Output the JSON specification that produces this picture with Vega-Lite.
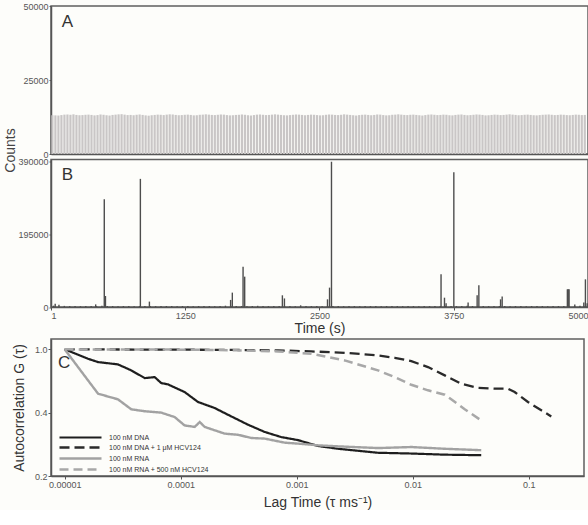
{
  "$schema": "https://vega.github.io/schema/vega-lite/v6.json",
  "background": "#fdfdfa",
  "autosize": {"type": "pad"},
  "padding": {"left": 2, "top": 1, "right": 0, "bottom": 0},
  "config": {
    "font": "Liberation Sans",
    "view": {"stroke": "#5f5f5f", "strokeWidth": 1.5},
    "axis": {"domainColor": "#555", "domainWidth": 1.5, "tickColor": "#555", "tickSize": 3, "labelFontSize": 9, "labelColor": "#555", "titleFontSize": 14, "titleFontWeight": "normal", "titleColor": "#333", "grid": false, "labelPadding": 1},
    "legend": {"orient": "none", "legendX": 26, "legendY": 428, "symbolType": "M-10.5,0H10.5", "symbolSize": 16, "labelFontSize": 7, "labelColor": "#333", "rowPadding": 0, "labelOffset": 25}
  },
  "datasets": {
    "a": [
      {"t":14,"c":13100},{"t":42,"c":13050},{"t":70,"c":13000},{"t":98,"c":13150},{"t":126,"c":13300},{"t":154,"c":13350},{"t":182,"c":13250},{"t":210,"c":13400},{"t":238,"c":13200},{"t":266,"c":13100},
      {"t":294,"c":13150},{"t":322,"c":13250},{"t":350,"c":13300},{"t":378,"c":13200},{"t":406,"c":13050},{"t":434,"c":13150},{"t":462,"c":13350},{"t":490,"c":13250},{"t":518,"c":13100},{"t":546,"c":13000},
      {"t":574,"c":13200},{"t":602,"c":13300},{"t":630,"c":13400},{"t":658,"c":13450},{"t":686,"c":13300},{"t":714,"c":13150},{"t":742,"c":13200},{"t":770,"c":13100},{"t":798,"c":13250},{"t":826,"c":13350},
      {"t":854,"c":13200},{"t":882,"c":13050},{"t":910,"c":12950},{"t":938,"c":13100},{"t":966,"c":13200},{"t":994,"c":13300},{"t":1022,"c":13250},{"t":1050,"c":13150},{"t":1078,"c":13300},{"t":1106,"c":13400},
      {"t":1134,"c":13350},{"t":1162,"c":13200},{"t":1190,"c":13100},{"t":1218,"c":13150},{"t":1246,"c":13250},{"t":1274,"c":13300},{"t":1302,"c":13200},{"t":1330,"c":13050},{"t":1358,"c":13100},{"t":1386,"c":13250},
      {"t":1414,"c":13300},{"t":1442,"c":13400},{"t":1470,"c":13300},{"t":1498,"c":13200},{"t":1526,"c":13150},{"t":1554,"c":13250},{"t":1582,"c":13350},{"t":1610,"c":13300},{"t":1638,"c":13150},{"t":1666,"c":13050},
      {"t":1694,"c":13100},{"t":1722,"c":13200},{"t":1750,"c":13250},{"t":1778,"c":13350},{"t":1806,"c":13250},{"t":1834,"c":13100},{"t":1862,"c":13000},{"t":1890,"c":13150},{"t":1918,"c":13300},{"t":1946,"c":13350},
      {"t":1974,"c":13250},{"t":2002,"c":13150},{"t":2030,"c":13200},{"t":2058,"c":13300},{"t":2086,"c":13400},{"t":2114,"c":13300},{"t":2142,"c":13200},{"t":2170,"c":13100},{"t":2198,"c":13050},{"t":2226,"c":13150},
      {"t":2254,"c":13250},{"t":2282,"c":13350},{"t":2310,"c":13300},{"t":2338,"c":13200},{"t":2366,"c":13100},{"t":2394,"c":13200},{"t":2422,"c":13300},{"t":2450,"c":13250},{"t":2478,"c":13150},{"t":2506,"c":13050},
      {"t":2534,"c":13100},{"t":2562,"c":13250},{"t":2590,"c":13350},{"t":2618,"c":13300},{"t":2646,"c":13200},{"t":2674,"c":13150},{"t":2702,"c":13250},{"t":2730,"c":13400},{"t":2758,"c":13300},{"t":2786,"c":13200},
      {"t":2814,"c":13100},{"t":2842,"c":13000},{"t":2870,"c":13150},{"t":2898,"c":13250},{"t":2926,"c":13300},{"t":2954,"c":13200},{"t":2982,"c":13100},{"t":3010,"c":13200},{"t":3038,"c":13350},{"t":3066,"c":13300},
      {"t":3094,"c":13150},{"t":3122,"c":13050},{"t":3150,"c":13100},{"t":3178,"c":13250},{"t":3206,"c":13300},{"t":3234,"c":13400},{"t":3262,"c":13300},{"t":3290,"c":13200},{"t":3318,"c":13150},{"t":3346,"c":13250},
      {"t":3374,"c":13300},{"t":3402,"c":13200},{"t":3430,"c":13100},{"t":3458,"c":13000},{"t":3486,"c":13150},{"t":3514,"c":13300},{"t":3542,"c":13350},{"t":3570,"c":13250},{"t":3598,"c":13150},{"t":3626,"c":13200},
      {"t":3654,"c":13300},{"t":3682,"c":13250},{"t":3710,"c":13100},{"t":3738,"c":13050},{"t":3766,"c":13200},{"t":3794,"c":13300},{"t":3822,"c":13350},{"t":3850,"c":13200},{"t":3878,"c":13100},{"t":3906,"c":13150},
      {"t":3934,"c":13250},{"t":3962,"c":13350},{"t":3990,"c":13300},{"t":4018,"c":13200},{"t":4046,"c":13050},{"t":4074,"c":13100},{"t":4102,"c":13200},{"t":4130,"c":13300},{"t":4158,"c":13250},{"t":4186,"c":13150},
      {"t":4214,"c":13200},{"t":4242,"c":13300},{"t":4270,"c":13400},{"t":4298,"c":13300},{"t":4326,"c":13200},{"t":4354,"c":13100},{"t":4382,"c":13150},{"t":4410,"c":13250},{"t":4438,"c":13300},{"t":4466,"c":13200},
      {"t":4494,"c":13100},{"t":4522,"c":13050},{"t":4550,"c":13150},{"t":4578,"c":13250},{"t":4606,"c":13300},{"t":4634,"c":13350},{"t":4662,"c":13250},{"t":4690,"c":13150},{"t":4718,"c":13200},{"t":4746,"c":13300},
      {"t":4774,"c":13250},{"t":4802,"c":13150},{"t":4830,"c":13100},{"t":4858,"c":13200},{"t":4886,"c":13300},{"t":4914,"c":13250},{"t":4942,"c":13150},{"t":4970,"c":13200}
    ],
    "b": [
      {"t":25,"c":3500},{"t":75,"c":6000},{"t":125,"c":3000},{"t":175,"c":2500},{"t":225,"c":2800},{"t":275,"c":2200},{"t":325,"c":2600},{"t":375,"c":3000},{"t":425,"c":2500},{"t":475,"c":3200},
      {"t":525,"c":2400},{"t":575,"c":2600},{"t":625,"c":2300},{"t":675,"c":2700},{"t":725,"c":2500},{"t":775,"c":2200},{"t":825,"c":2800},{"t":875,"c":2400},{"t":925,"c":2600},{"t":975,"c":2300},
      {"t":1025,"c":2500},{"t":1075,"c":2700},{"t":1125,"c":2400},{"t":1175,"c":2200},{"t":1225,"c":2600},{"t":1275,"c":2500},{"t":1325,"c":2300},{"t":1375,"c":2700},{"t":1425,"c":2400},{"t":1475,"c":2600},
      {"t":1525,"c":2300},{"t":1575,"c":2500},{"t":1625,"c":3500},{"t":1675,"c":2800},{"t":1725,"c":2400},{"t":1775,"c":2600},{"t":1825,"c":2300},{"t":1875,"c":2700},{"t":1925,"c":3200},{"t":1975,"c":2500},
      {"t":2025,"c":2300},{"t":2075,"c":2600},{"t":2125,"c":2400},{"t":2175,"c":2700},{"t":2225,"c":2500},{"t":2275,"c":2300},{"t":2325,"c":4500},{"t":2375,"c":3000},{"t":2425,"c":2400},{"t":2475,"c":2600},
      {"t":2525,"c":2300},{"t":2575,"c":2500},{"t":2625,"c":2700},{"t":2675,"c":2400},{"t":2725,"c":2200},{"t":2775,"c":2600},{"t":2825,"c":2500},{"t":2875,"c":2300},{"t":2925,"c":2700},{"t":2975,"c":2400},
      {"t":3025,"c":2600},{"t":3075,"c":2300},{"t":3125,"c":2500},{"t":3175,"c":2700},{"t":3225,"c":2400},{"t":3275,"c":2200},{"t":3325,"c":2600},{"t":3375,"c":2500},{"t":3425,"c":2300},{"t":3475,"c":2700},
      {"t":3525,"c":2400},{"t":3575,"c":2600},{"t":3625,"c":3000},{"t":3675,"c":2800},{"t":3725,"c":2500},{"t":3775,"c":2300},{"t":3825,"c":2600},{"t":3875,"c":3500},{"t":3925,"c":2700},{"t":3975,"c":2400},
      {"t":4025,"c":2600},{"t":4075,"c":2300},{"t":4125,"c":2500},{"t":4175,"c":2700},{"t":4225,"c":2400},{"t":4275,"c":2200},{"t":4325,"c":2600},{"t":4375,"c":2500},{"t":4425,"c":2300},{"t":4475,"c":2700},
      {"t":4525,"c":2400},{"t":4575,"c":2600},{"t":4625,"c":2300},{"t":4675,"c":2500},{"t":4725,"c":2700},{"t":4775,"c":2400},{"t":4825,"c":3000},{"t":4875,"c":2600},{"t":4925,"c":3200},{"t":4975,"c":3000},
      {"t":40,"c":9000},{"t":417,"c":7000},{"t":497,"c":289000},{"t":508,"c":29500},{"t":833,"c":344000},{"t":917,"c":14500},
      {"t":1673,"c":19000},{"t":1689,"c":38600},{"t":1789,"c":108000},{"t":1804,"c":81500},{"t":2155,"c":31400},{"t":2174,"c":23000},
      {"t":2575,"c":20600},{"t":2594,"c":52000},{"t":2612,"c":390000},{"t":3632,"c":87700},{"t":3664,"c":25000},{"t":3679,"c":10000},
      {"t":3751,"c":362000},{"t":3884,"c":11800},{"t":3968,"c":31400},{"t":3984,"c":58200},{"t":4186,"c":20600},{"t":4201,"c":27900},
      {"t":4808,"c":47500},{"t":4816,"c":47500},{"t":4824,"c":47500},{"t":4877,"c":7000},{"t":4961,"c":11800},{"t":4976,"c":74300},{"t":4992,"c":10000}
    ],
    "c": [
      {"s":"100 nM DNA","tau":0.00001,"g":1.0},{"s":"100 nM DNA","tau":0.0000159,"g":0.855},{"s":"100 nM DNA","tau":0.0000194,"g":0.811},{"s":"100 nM DNA","tau":0.0000288,"g":0.782},{"s":"100 nM DNA","tau":0.0000375,"g":0.713},{"s":"100 nM DNA","tau":0.000049,"g":0.636},{"s":"100 nM DNA","tau":0.0000597,"g":0.645},{"s":"100 nM DNA","tau":0.000068,"g":0.592},{"s":"100 nM DNA","tau":0.0000778,"g":0.581},{"s":"100 nM DNA","tau":0.000108,"g":0.523},{"s":"100 nM DNA","tau":0.000141,"g":0.458},{"s":"100 nM DNA","tau":0.000196,"g":0.424},{"s":"100 nM DNA","tau":0.000273,"g":0.382},{"s":"100 nM DNA","tau":0.00038,"g":0.346},{"s":"100 nM DNA","tau":0.00053,"g":0.318},{"s":"100 nM DNA","tau":0.000737,"g":0.3},{"s":"100 nM DNA","tau":0.00103,"g":0.29},{"s":"100 nM DNA","tau":0.00153,"g":0.272},{"s":"100 nM DNA","tau":0.00227,"g":0.264},{"s":"100 nM DNA","tau":0.00502,"g":0.253},{"s":"100 nM DNA","tau":0.00973,"g":0.251},{"s":"100 nM DNA","tau":0.0189,"g":0.248},{"s":"100 nM DNA","tau":0.039,"g":0.2466},
      {"s":"100 nM DNA + 1 μM HCV124","tau":0.00001,"g":1.0},{"s":"100 nM DNA + 1 μM HCV124","tau":0.0001,"g":0.995},{"s":"100 nM DNA + 1 μM HCV124","tau":0.0003,"g":0.99},{"s":"100 nM DNA + 1 μM HCV124","tau":0.00069,"g":0.982},{"s":"100 nM DNA + 1 μM HCV124","tau":0.00134,"g":0.966},{"s":"100 nM DNA + 1 μM HCV124","tau":0.00259,"g":0.943},{"s":"100 nM DNA + 1 μM HCV124","tau":0.00502,"g":0.904},{"s":"100 nM DNA + 1 μM HCV124","tau":0.007,"g":0.869},{"s":"100 nM DNA + 1 μM HCV124","tau":0.00973,"g":0.824},{"s":"100 nM DNA + 1 μM HCV124","tau":0.01355,"g":0.75},{"s":"100 nM DNA + 1 μM HCV124","tau":0.0189,"g":0.662},{"s":"100 nM DNA + 1 μM HCV124","tau":0.0262,"g":0.586},{"s":"100 nM DNA + 1 μM HCV124","tau":0.0366,"g":0.554},{"s":"100 nM DNA + 1 μM HCV124","tau":0.0509,"g":0.547},{"s":"100 nM DNA + 1 μM HCV124","tau":0.0663,"g":0.547},{"s":"100 nM DNA + 1 μM HCV124","tau":0.0757,"g":0.523},{"s":"100 nM DNA + 1 μM HCV124","tau":0.0986,"g":0.458},{"s":"100 nM DNA + 1 μM HCV124","tau":0.1285,"g":0.412},{"s":"100 nM DNA + 1 μM HCV124","tau":0.1567,"g":0.382},
      {"s":"100 nM RNA","tau":0.00001,"g":1.0},{"s":"100 nM RNA","tau":0.0000194,"g":0.511},{"s":"100 nM RNA","tau":0.0000288,"g":0.474},{"s":"100 nM RNA","tau":0.0000375,"g":0.417},{"s":"100 nM RNA","tau":0.000049,"g":0.407},{"s":"100 nM RNA","tau":0.000068,"g":0.4},{"s":"100 nM RNA","tau":0.0000887,"g":0.379},{"s":"100 nM RNA","tau":0.000108,"g":0.343},{"s":"100 nM RNA","tau":0.000132,"g":0.337},{"s":"100 nM RNA","tau":0.000146,"g":0.357},{"s":"100 nM RNA","tau":0.000161,"g":0.337},{"s":"100 nM RNA","tau":0.000239,"g":0.312},{"s":"100 nM RNA","tau":0.000312,"g":0.308},{"s":"100 nM RNA","tau":0.000406,"g":0.297},{"s":"100 nM RNA","tau":0.00053,"g":0.295},{"s":"100 nM RNA","tau":0.000789,"g":0.282},{"s":"100 nM RNA","tau":0.00103,"g":0.279},{"s":"100 nM RNA","tau":0.00153,"g":0.274},{"s":"100 nM RNA","tau":0.00227,"g":0.271},{"s":"100 nM RNA","tau":0.00502,"g":0.266},{"s":"100 nM RNA","tau":0.00973,"g":0.269},{"s":"100 nM RNA","tau":0.0189,"g":0.264},{"s":"100 nM RNA","tau":0.039,"g":0.26},
      {"s":"100 nM RNA + 500 nM HCV124","tau":0.00001,"g":1.0},{"s":"100 nM RNA + 500 nM HCV124","tau":0.0001,"g":0.995},{"s":"100 nM RNA + 500 nM HCV124","tau":0.0003,"g":0.985},{"s":"100 nM RNA + 500 nM HCV124","tau":0.00069,"g":0.966},{"s":"100 nM RNA + 500 nM HCV124","tau":0.00134,"g":0.928},{"s":"100 nM RNA + 500 nM HCV124","tau":0.00259,"g":0.833},{"s":"100 nM RNA + 500 nM HCV124","tau":0.00502,"g":0.713},{"s":"100 nM RNA + 500 nM HCV124","tau":0.007,"g":0.645},{"s":"100 nM RNA + 500 nM HCV124","tau":0.00973,"g":0.578},{"s":"100 nM RNA + 500 nM HCV124","tau":0.01355,"g":0.535},{"s":"100 nM RNA + 500 nM HCV124","tau":0.0189,"g":0.504},{"s":"100 nM RNA + 500 nM HCV124","tau":0.0215,"g":0.474},{"s":"100 nM RNA + 500 nM HCV124","tau":0.0281,"g":0.417},{"s":"100 nM RNA + 500 nM HCV124","tau":0.039,"g":0.364}
    ]
  },
  "vconcat": [
    {
      "vconcat": [
        {
          "width": 537, "height": 148,
          "layer": [
            {
              "data": {"name": "a"},
              "mark": {"type": "rule", "color": "#c9c6c6", "strokeWidth": 2.2},
              "encoding": {
                "x": {"field": "t", "type": "quantitative", "scale": {"domain": [1, 5000], "nice": false, "zero": false}, "axis": {"labels": false, "ticks": false, "title": null}},
                "y": {"field": "c", "type": "quantitative", "scale": {"domain": [0, 50000], "nice": false}, "axis": {"values": [0, 25000, 50000], "format": "d", "tickSize": 2, "title": "Counts", "titleX": -34, "titleY": 144, "titleAngle": -90, "titleColor": "#444"}},
                "y2": {"datum": 0}
              }
            },
            {
              "data": {"values": [{"label": "A"}]},
              "mark": {"type": "text", "fontSize": 17, "align": "left", "baseline": "middle", "color": "#333"},
              "encoding": {
                "x": {"datum": 100, "type": "quantitative"},
                "y": {"datum": 44600, "type": "quantitative"},
                "text": {"field": "label"}
              }
            }
          ]
        },
        {
          "width": 537, "height": 147.5,
          "layer": [
            {
              "data": {"name": "b"},
              "mark": {"type": "rule", "color": "#4d4d4d", "strokeWidth": 1.4},
              "encoding": {
                "x": {"field": "t", "type": "quantitative", "scale": {"domain": [1, 5000], "nice": false, "zero": false}, "axis": {"values": [1, 1250, 2500, 3750, 5000], "format": "d", "title": "Time (s)", "titlePadding": 1}},
                "y": {"field": "c", "type": "quantitative", "scale": {"domain": [0, 396000], "nice": false}, "axis": {"values": [0, 195000, 390000], "format": "d", "tickSize": 2, "title": null}},
                "y2": {"datum": 0}
              }
            },
            {
              "data": {"values": [{"label": "B"}]},
              "mark": {"type": "text", "fontSize": 17, "align": "left", "baseline": "middle", "color": "#333"},
              "encoding": {
                "x": {"datum": 100, "type": "quantitative"},
                "y": {"datum": 354000, "type": "quantitative"},
                "text": {"field": "label"}
              }
            }
          ]
        }
      ],
      "spacing": 5.5,
      "bounds": "flush"
    },
    {
      "width": 533, "height": 137,
      "layer": [
        {
          "data": {"name": "c"},
          "mark": {"type": "line", "interpolate": "linear"},
          "encoding": {
            "x": {"field": "tau", "type": "quantitative", "scale": {"type": "log", "domain": [0.00000762, 0.3], "nice": false}, "axis": {"values": [0.00001, 0.0001, 0.001, 0.01, 0.1], "format": ".5~f", "title": "Lag Time (τ ms⁻¹)", "titlePadding": 6}},
            "y": {"field": "g", "type": "quantitative", "scale": {"type": "pow", "exponent": -0.35, "domain": [0.2, 1.2], "nice": false, "zero": false}, "axis": {"values": [0.2, 0.4, 1.0], "format": ".1f", "title": "Autocorrelation G (τ)", "titlePadding": 8}},
            "color": {"field": "s", "type": "nominal", "scale": {"domain": ["100 nM DNA", "100 nM DNA + 1 μM HCV124", "100 nM RNA", "100 nM RNA + 500 nM HCV124"], "range": ["#1e1e1e", "#2a2a2a", "#a2a2a2", "#a8a8a8"]}, "legend": {"title": null}},
            "strokeDash": {"field": "s", "type": "nominal", "scale": {"domain": ["100 nM DNA", "100 nM DNA + 1 μM HCV124", "100 nM RNA", "100 nM RNA + 500 nM HCV124"], "range": [[1, 0], [10, 5], [1, 0], [9, 5]]}, "legend": {"title": null}},
            "strokeWidth": {"field": "s", "type": "nominal", "scale": {"domain": ["100 nM DNA", "100 nM DNA + 1 μM HCV124", "100 nM RNA", "100 nM RNA + 500 nM HCV124"], "range": [2.2, 2.5, 2, 1.6]}, "legend": {"title": null}}
          }
        },
        {
          "data": {"values": [{"label": "C"}]},
          "mark": {"type": "text", "fontSize": 17, "align": "left", "baseline": "middle", "color": "#333"},
          "encoding": {
            "x": {"datum": 0.00000875, "type": "quantitative"},
            "y": {"datum": 0.798, "type": "quantitative"},
            "text": {"field": "label"}
          }
        }
      ]
    }
  ],
  "spacing": 2,
  "resolve": {"scale": {"x": "independent", "y": "independent"}}
}
